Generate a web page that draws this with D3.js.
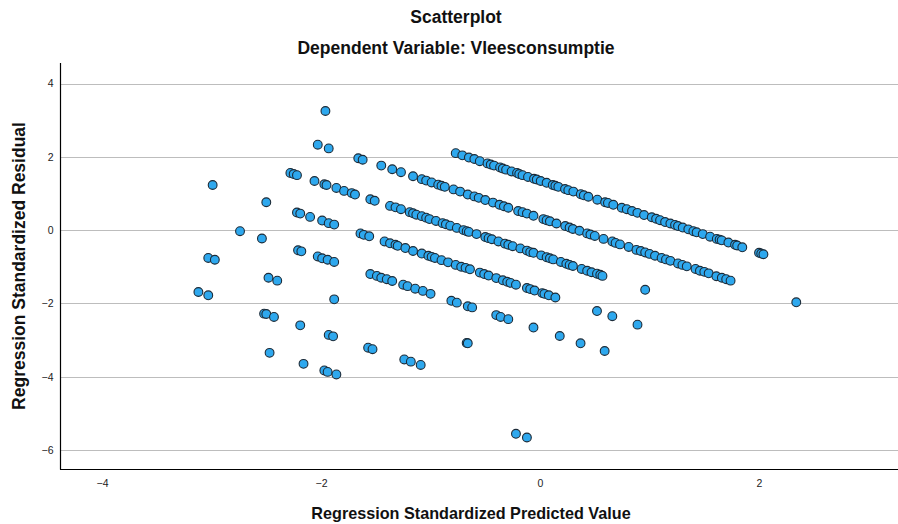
<!DOCTYPE html>
<html>
<head>
<meta charset="utf-8">
<script src="https://cdn.jsdelivr.net/npm/d3@7"></script>
<style>
  body { margin: 0; background: #fff; }
  svg { display: block; }
  text { font-family: "Liberation Sans", Arial, sans-serif; }
</style>
</head>
<body>
<svg id="chart" width="898" height="524"></svg>
<script>
const chartTitle = "Scatterplot";
const chartSubtitle = "Dependent Variable: Vleesconsumptie";
const xLabel = "Regression Standardized Predicted Value";
const yLabel = "Regression Standardized Residual";
const xTicks = [-4, -2, 0, 2];
const yTicks = [4, 2, 0, -2, -4, -6];

// Each case is [standardized predicted value, standardized residual].
// Cases sharing one observed score line up on one diagonal stripe.
const stripe1 = [[-1.96,3.25],[-0.77,2.10],[-0.71,2.04],[-0.65,1.98],[-0.60,1.94],[-0.55,1.88],[-0.48,1.82],[-0.45,1.79],[-0.42,1.76],[-0.365,1.71],[-0.34,1.68],[-0.31,1.65],[-0.26,1.60],[-0.21,1.56],[-0.19,1.53],[-0.16,1.50],[-0.11,1.45],[-0.055,1.40],[-0.03,1.38],[0.006,1.34],[0.06,1.29],[0.116,1.23],[0.14,1.21],[0.167,1.18],[0.228,1.12],[0.258,1.09],[0.304,1.05],[0.372,0.98],[0.40,0.95],[0.441,0.91],[0.523,0.83],[0.594,0.76],[0.62,0.74],[0.669,0.69],[0.746,0.61],[0.792,0.57],[0.84,0.52],[0.889,0.47],[0.95,0.41],[1.02,0.35],[1.06,0.31],[1.096,0.27],[1.142,0.22],[1.19,0.18],[1.233,0.14],[1.26,0.11],[1.303,0.07],[1.354,0.02],[1.40,-0.03],[1.43,-0.06],[1.486,-0.11],[1.553,-0.18],[1.614,-0.24],[1.64,-0.26],[1.659,-0.28],[1.72,-0.34],[1.781,-0.40],[1.80,-0.42],[1.847,-0.47],[2.00,-0.62],[2.02,-0.64],[2.04,-0.66]];
const stripe2 = [[-2.03,2.33],[-1.93,2.23],[-1.66,1.96],[-1.62,1.92],[-1.45,1.76],[-1.35,1.66],[-1.27,1.58],[-1.16,1.47],[-1.08,1.39],[-1.04,1.35],[-0.99,1.30],[-0.93,1.24],[-0.90,1.21],[-0.87,1.18],[-0.79,1.11],[-0.73,1.05],[-0.66,0.97],[-0.60,0.92],[-0.56,0.88],[-0.50,0.82],[-0.43,0.75],[-0.37,0.69],[-0.33,0.65],[-0.29,0.61],[-0.20,0.52],[-0.16,0.49],[-0.12,0.45],[-0.06,0.39],[0.03,0.30],[0.06,0.27],[0.09,0.24],[0.15,0.18],[0.23,0.11],[0.27,0.07],[0.30,0.03],[0.36,-0.02],[0.43,-0.09],[0.46,-0.12],[0.50,-0.16],[0.58,-0.24],[0.66,-0.31],[0.69,-0.35],[0.73,-0.39],[0.81,-0.46],[0.88,-0.54],[0.92,-0.57],[0.96,-0.61],[1.00,-0.65],[1.05,-0.70],[1.11,-0.76],[1.15,-0.80],[1.19,-0.84],[1.26,-0.91],[1.30,-0.95],[1.34,-0.99],[1.42,-1.06],[1.46,-1.11],[1.50,-1.14],[1.54,-1.18],[1.61,-1.26],[1.66,-1.30],[1.70,-1.34],[1.74,-1.38],[2.34,-1.97]];
const stripe3 = [[-2.28,1.56],[-2.25,1.53],[-2.22,1.50],[-2.06,1.34],[-1.97,1.25],[-1.95,1.23],[-1.86,1.15],[-1.79,1.07],[-1.72,1.01],[-1.69,0.97],[-1.55,0.84],[-1.51,0.80],[-1.37,0.66],[-1.32,0.62],[-1.27,0.57],[-1.19,0.49],[-1.16,0.46],[-1.13,0.42],[-1.08,0.38],[-1.04,0.34],[-1.01,0.30],[-0.95,0.25],[-0.89,0.19],[-0.86,0.16],[-0.82,0.12],[-0.76,0.06],[-0.70,0.00],[-0.67,-0.03],[-0.65,-0.05],[-0.58,-0.11],[-0.50,-0.19],[-0.47,-0.22],[-0.44,-0.25],[-0.38,-0.31],[-0.32,-0.37],[-0.29,-0.40],[-0.25,-0.44],[-0.18,-0.50],[-0.12,-0.56],[-0.09,-0.60],[-0.06,-0.62],[0.01,-0.69],[0.06,-0.74],[0.09,-0.77],[0.12,-0.80],[0.19,-0.87],[0.24,-0.92],[0.27,-0.95],[0.30,-0.98],[0.38,-1.06],[0.43,-1.11],[0.47,-1.15],[0.52,-1.19],[0.55,-1.22],[0.57,-1.25],[0.96,-1.63]];
const stripe4 = [[-2.99,1.23],[-2.50,0.76],[-2.22,0.48],[-2.19,0.45],[-2.10,0.36],[-1.99,0.26],[-1.93,0.19],[-1.88,0.15],[-1.64,-0.09],[-1.61,-0.13],[-1.56,-0.17],[-1.42,-0.31],[-1.37,-0.36],[-1.32,-0.40],[-1.30,-0.43],[-1.23,-0.49],[-1.16,-0.57],[-1.08,-0.64],[-1.02,-0.70],[-0.99,-0.73],[-0.96,-0.76],[-0.90,-0.82],[-0.84,-0.88],[-0.77,-0.95],[-0.72,-1.00],[-0.68,-1.03],[-0.64,-1.07],[-0.55,-1.16],[-0.51,-1.20],[-0.47,-1.24],[-0.40,-1.31],[-0.34,-1.37],[-0.30,-1.41],[-0.27,-1.44],[-0.22,-1.49],[-0.12,-1.58],[-0.09,-1.61],[-0.05,-1.65],[0.02,-1.72],[0.04,-1.74],[0.08,-1.78],[0.14,-1.84],[0.52,-2.21],[0.66,-2.35],[0.89,-2.58]];
const stripe5 = [[-2.74,-0.03],[-2.54,-0.23],[-2.21,-0.55],[-2.18,-0.58],[-2.03,-0.72],[-1.99,-0.77],[-1.94,-0.81],[-1.88,-0.87],[-1.55,-1.20],[-1.49,-1.25],[-1.45,-1.30],[-1.40,-1.34],[-1.35,-1.39],[-1.25,-1.49],[-1.21,-1.53],[-1.14,-1.60],[-1.07,-1.66],[-1.00,-1.74],[-0.81,-1.93],[-0.76,-1.98],[-0.66,-2.08],[-0.62,-2.11],[-0.40,-2.32],[-0.36,-2.37],[-0.29,-2.43],[-0.06,-2.66],[0.18,-2.89],[0.37,-3.09],[0.59,-3.30]];
const stripe6 = [[-3.03,-0.76],[-2.97,-0.81],[-2.48,-1.30],[-2.40,-1.38],[-1.88,-1.89],[-0.67,-3.08],[-0.66,-3.09]];
const stripe7 = [[-3.12,-1.69],[-3.03,-1.78],[-2.52,-2.28],[-2.50,-2.29],[-2.43,-2.37],[-2.19,-2.60],[-1.93,-2.86],[-1.89,-2.90],[-1.57,-3.21],[-1.53,-3.25],[-1.24,-3.53],[-1.18,-3.59],[-1.09,-3.68]];
const stripe8 = [[-2.47,-3.35],[-2.16,-3.65],[-1.97,-3.83],[-1.94,-3.87],[-1.86,-3.94],[-0.22,-5.56],[-0.12,-5.66]];

const cases = [stripe1, stripe2, stripe3, stripe4, stripe5, stripe6, stripe7, stripe8].flat();

const svg = d3.select("#chart");
const W = 898, H = 524;
const plot = { left: 60, right: 898, top: 63, bottom: 469 };

svg.append("rect").attr("width", W).attr("height", H).attr("fill", "#fff");

const x = d3.scaleLinear().domain([-4.384, 3.269]).range([plot.left, plot.right]);
const y = d3.scaleLinear().domain([-6.52, 4.56]).range([plot.bottom, plot.top]);

// horizontal reference lines
svg.append("g")
  .selectAll("line")
  .data(yTicks)
  .join("line")
  .attr("x1", plot.left).attr("x2", plot.right)
  .attr("y1", d => Math.round(y(d)) + 0.5).attr("y2", d => Math.round(y(d)) + 0.5)
  .attr("stroke", "#bdbdbd").attr("stroke-width", 1.2);

// axes
const xAxis = svg.append("g")
  .attr("transform", `translate(0,${plot.bottom})`)
  .call(d3.axisBottom(x).tickValues(xTicks).tickSize(0).tickPadding(10.5).tickFormat(d3.format("d")));
const yAxis = svg.append("g")
  .attr("transform", `translate(${plot.left},0)`)
  .call(d3.axisLeft(y).tickValues(yTicks).tickSize(0).tickPadding(6.5).tickFormat(d3.format("d")));

[xAxis, yAxis].forEach(g => {
  g.select(".domain").remove();
  g.selectAll("text")
    .attr("font-size", 10.5)
    .attr("fill", "#222")
    .style("font-family", '"Liberation Sans", Arial, sans-serif');
});

svg.append("line")
  .attr("x1", plot.left + 0.5).attr("x2", plot.left + 0.5)
  .attr("y1", plot.top).attr("y2", plot.bottom + 0.5)
  .attr("stroke", "#000").attr("stroke-width", 1.2);
svg.append("line")
  .attr("x1", plot.left).attr("x2", plot.right)
  .attr("y1", plot.bottom + 0.5).attr("y2", plot.bottom + 0.5)
  .attr("stroke", "#000").attr("stroke-width", 1.2);

// scatter points
svg.append("g")
  .selectAll("circle")
  .data(cases)
  .join("circle")
  .attr("cx", d => x(d[0]))
  .attr("cy", d => y(d[1]))
  .attr("r", 4.4)
  .attr("fill", "#2ea8ee")
  .attr("stroke", "#1c2b38")
  .attr("stroke-width", 1.1);

// titles
svg.append("text")
  .attr("x", 456).attr("y", 23)
  .attr("text-anchor", "middle")
  .attr("font-size", 17.5).attr("font-weight", "bold").attr("fill", "#111")
  .text(chartTitle);
svg.append("text")
  .attr("x", 456).attr("y", 54)
  .attr("text-anchor", "middle")
  .attr("font-size", 17.5).attr("font-weight", "bold").attr("fill", "#111")
  .text(chartSubtitle);
svg.append("text")
  .attr("x", 471).attr("y", 519)
  .attr("text-anchor", "middle")
  .attr("font-size", 16.2).attr("font-weight", "bold").attr("fill", "#111")
  .text(xLabel);
svg.append("text")
  .attr("transform", "translate(25,266) rotate(-90)")
  .attr("text-anchor", "middle")
  .attr("font-size", 17.5).attr("font-weight", "bold").attr("fill", "#111")
  .text(yLabel);
</script>
</body>
</html>
